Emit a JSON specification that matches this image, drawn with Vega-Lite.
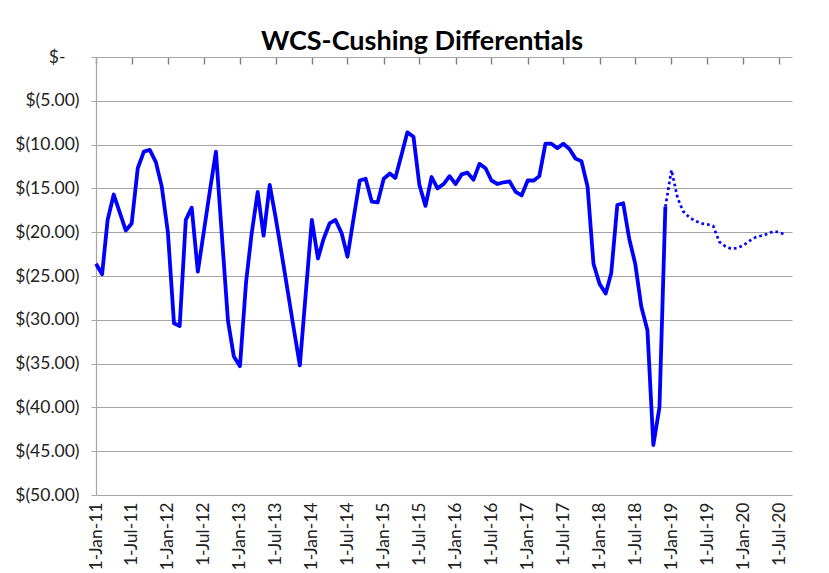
{
  "$schema": "https://vega.github.io/schema/vega-lite/v6.json",
  "autosize": {"type": "none"},
  "width": 696,
  "height": 438,
  "padding": {"left": 96, "top": 57, "right": 37, "bottom": 78},
  "background": "white",
  "title": {"text": "WCS-Cushing Differentials", "font": "Lato", "fontSize": 27, "fontWeight": "bold", "color": "#000000", "anchor": "middle", "dx": -22, "dy": 16, "offset": 8},
  "config": {"view": {"stroke": null}},
  "datasets": {
    "actual": [
      {"date": "2011-01-01T00:00", "value": -23.6},
      {"date": "2011-02-01T00:00", "value": -24.8},
      {"date": "2011-03-01T00:00", "value": -18.6},
      {"date": "2011-04-01T00:00", "value": -15.7},
      {"date": "2011-05-01T00:00", "value": -17.7},
      {"date": "2011-06-01T00:00", "value": -19.8},
      {"date": "2011-07-01T00:00", "value": -19.0},
      {"date": "2011-08-01T00:00", "value": -12.7},
      {"date": "2011-09-01T00:00", "value": -10.8},
      {"date": "2011-10-01T00:00", "value": -10.6},
      {"date": "2011-11-01T00:00", "value": -12.0},
      {"date": "2011-12-01T00:00", "value": -14.8},
      {"date": "2012-01-01T00:00", "value": -20.0},
      {"date": "2012-02-01T00:00", "value": -30.4},
      {"date": "2012-03-01T00:00", "value": -30.7},
      {"date": "2012-04-01T00:00", "value": -18.6},
      {"date": "2012-05-01T00:00", "value": -17.2},
      {"date": "2012-06-01T00:00", "value": -24.5},
      {"date": "2012-07-01T00:00", "value": -20.0},
      {"date": "2012-08-01T00:00", "value": -15.3},
      {"date": "2012-09-01T00:00", "value": -10.8},
      {"date": "2012-10-01T00:00", "value": -20.3},
      {"date": "2012-11-01T00:00", "value": -30.1},
      {"date": "2012-12-01T00:00", "value": -34.2},
      {"date": "2013-01-01T00:00", "value": -35.3},
      {"date": "2013-02-01T00:00", "value": -25.7},
      {"date": "2013-03-01T00:00", "value": -20.2},
      {"date": "2013-04-01T00:00", "value": -15.4},
      {"date": "2013-05-01T00:00", "value": -20.4},
      {"date": "2013-06-01T00:00", "value": -14.6},
      {"date": "2013-07-01T00:00", "value": -18.3},
      {"date": "2013-08-01T00:00", "value": -22.5},
      {"date": "2013-09-01T00:00", "value": -26.8},
      {"date": "2013-10-01T00:00", "value": -31.0},
      {"date": "2013-11-01T00:00", "value": -35.2},
      {"date": "2013-12-01T00:00", "value": -27.0},
      {"date": "2014-01-01T00:00", "value": -18.6},
      {"date": "2014-02-01T00:00", "value": -23.0},
      {"date": "2014-03-01T00:00", "value": -20.8},
      {"date": "2014-04-01T00:00", "value": -19.0},
      {"date": "2014-05-01T00:00", "value": -18.6},
      {"date": "2014-06-01T00:00", "value": -20.1},
      {"date": "2014-07-01T00:00", "value": -22.8},
      {"date": "2014-08-01T00:00", "value": -18.4},
      {"date": "2014-09-01T00:00", "value": -14.1},
      {"date": "2014-10-01T00:00", "value": -13.9},
      {"date": "2014-11-01T00:00", "value": -16.5},
      {"date": "2014-12-01T00:00", "value": -16.6},
      {"date": "2015-01-01T00:00", "value": -13.9},
      {"date": "2015-02-01T00:00", "value": -13.3},
      {"date": "2015-03-01T00:00", "value": -13.8},
      {"date": "2015-04-01T00:00", "value": -11.2},
      {"date": "2015-05-01T00:00", "value": -8.6},
      {"date": "2015-06-01T00:00", "value": -9.1},
      {"date": "2015-07-01T00:00", "value": -14.6},
      {"date": "2015-08-01T00:00", "value": -17.0},
      {"date": "2015-09-01T00:00", "value": -13.7},
      {"date": "2015-10-01T00:00", "value": -15.0},
      {"date": "2015-11-01T00:00", "value": -14.5},
      {"date": "2015-12-01T00:00", "value": -13.6},
      {"date": "2016-01-01T00:00", "value": -14.5},
      {"date": "2016-02-01T00:00", "value": -13.4},
      {"date": "2016-03-01T00:00", "value": -13.2},
      {"date": "2016-04-01T00:00", "value": -14.0},
      {"date": "2016-05-01T00:00", "value": -12.2},
      {"date": "2016-06-01T00:00", "value": -12.7},
      {"date": "2016-07-01T00:00", "value": -14.1},
      {"date": "2016-08-01T00:00", "value": -14.5},
      {"date": "2016-09-01T00:00", "value": -14.3},
      {"date": "2016-10-01T00:00", "value": -14.2},
      {"date": "2016-11-01T00:00", "value": -15.4},
      {"date": "2016-12-01T00:00", "value": -15.8},
      {"date": "2017-01-01T00:00", "value": -14.1},
      {"date": "2017-02-01T00:00", "value": -14.1},
      {"date": "2017-03-01T00:00", "value": -13.6},
      {"date": "2017-04-01T00:00", "value": -9.9},
      {"date": "2017-05-01T00:00", "value": -9.9},
      {"date": "2017-06-01T00:00", "value": -10.4},
      {"date": "2017-07-01T00:00", "value": -9.9},
      {"date": "2017-08-01T00:00", "value": -10.5},
      {"date": "2017-09-01T00:00", "value": -11.6},
      {"date": "2017-10-01T00:00", "value": -11.9},
      {"date": "2017-11-01T00:00", "value": -14.8},
      {"date": "2017-12-01T00:00", "value": -23.6},
      {"date": "2018-01-01T00:00", "value": -25.9},
      {"date": "2018-02-01T00:00", "value": -27.0},
      {"date": "2018-03-01T00:00", "value": -24.7},
      {"date": "2018-04-01T00:00", "value": -16.9},
      {"date": "2018-05-01T00:00", "value": -16.7},
      {"date": "2018-06-01T00:00", "value": -20.8},
      {"date": "2018-07-01T00:00", "value": -23.6},
      {"date": "2018-08-01T00:00", "value": -28.5},
      {"date": "2018-09-01T00:00", "value": -31.2},
      {"date": "2018-10-01T00:00", "value": -44.3},
      {"date": "2018-11-01T00:00", "value": -40.0},
      {"date": "2018-12-01T00:00", "value": -17.1}
    ],
    "forecast": [
      {"date": "2018-12-01T00:00", "value": -17.1},
      {"date": "2019-01-01T00:00", "value": -12.9},
      {"date": "2019-02-01T00:00", "value": -16.1},
      {"date": "2019-03-01T00:00", "value": -17.6},
      {"date": "2019-04-01T00:00", "value": -18.3},
      {"date": "2019-05-01T00:00", "value": -18.7},
      {"date": "2019-06-01T00:00", "value": -19.0},
      {"date": "2019-07-01T00:00", "value": -19.1},
      {"date": "2019-08-01T00:00", "value": -19.3},
      {"date": "2019-09-01T00:00", "value": -21.1},
      {"date": "2019-10-01T00:00", "value": -21.6},
      {"date": "2019-11-01T00:00", "value": -21.9},
      {"date": "2019-12-01T00:00", "value": -21.8},
      {"date": "2020-01-01T00:00", "value": -21.5},
      {"date": "2020-02-01T00:00", "value": -21.0},
      {"date": "2020-03-01T00:00", "value": -20.6},
      {"date": "2020-04-01T00:00", "value": -20.4},
      {"date": "2020-05-01T00:00", "value": -20.2},
      {"date": "2020-06-01T00:00", "value": -19.9},
      {"date": "2020-07-01T00:00", "value": -20.0},
      {"date": "2020-08-01T00:00", "value": -20.3}
    ]
  },
  "encoding": {
    "x": {
      "field": "date",
      "type": "temporal",
      "scale": {"domain": [{"year": 2011, "month": 1, "date": 1}, {"year": 2020, "month": 9, "date": 4}]},
      "axis": {
        "orient": "bottom",
        "title": null,
        "format": "%-d-%b-%y",
        "tickCount": {"interval": "month", "step": 6},
        "labelAngle": -90,
        "labelAlign": "right",
        "labelBaseline": "middle",
        "ticks": false,
        "domain": false,
        "grid": true,
        "gridColor": "#7f7f7f",
        "gridWidth": 1.4,
        "gridDash": [7, 1000],
        "labelPadding": 7,
        "labelFont": "Lato",
        "labelFontSize": 17.5,
        "labelColor": "#222222",
        "labelOverlap": false,
        "labelFlush": false
      }
    },
    "y": {
      "field": "value",
      "type": "quantitative",
      "scale": {"domain": [-50, 0], "nice": false, "zero": false},
      "axis": {
        "title": null,
        "values": [0, -5, -10, -15, -20, -25, -30, -35, -40, -45, -50],
        "labelExpr": "datum.value == 0 ? '$-' : '$(' + format(-datum.value, '.2f') + ')'",
        "labelPadding": {"condition": {"test": "datum.value == 0", "value": 26}, "value": 12},
        "grid": true,
        "gridColor": "#a6a6a6",
        "gridWidth": 1.2,
        "domainColor": "#a6a6a6",
        "domainWidth": 1.2,
        "tickColor": "#a6a6a6",
        "tickSize": 5,
        "labelFont": "Lato",
        "labelFontSize": 17.5,
        "labelColor": "#222222"
      }
    }
  },
  "layer": [
    {
      "data": {"name": "actual"},
      "mark": {"type": "line", "color": "#0000ff", "strokeWidth": 3.8, "strokeJoin": "round"}
    },
    {
      "data": {"name": "forecast"},
      "mark": {"type": "line", "color": "#0000ff", "strokeWidth": 2.7, "strokeDash": [2.7, 3]}
    }
  ]
}
